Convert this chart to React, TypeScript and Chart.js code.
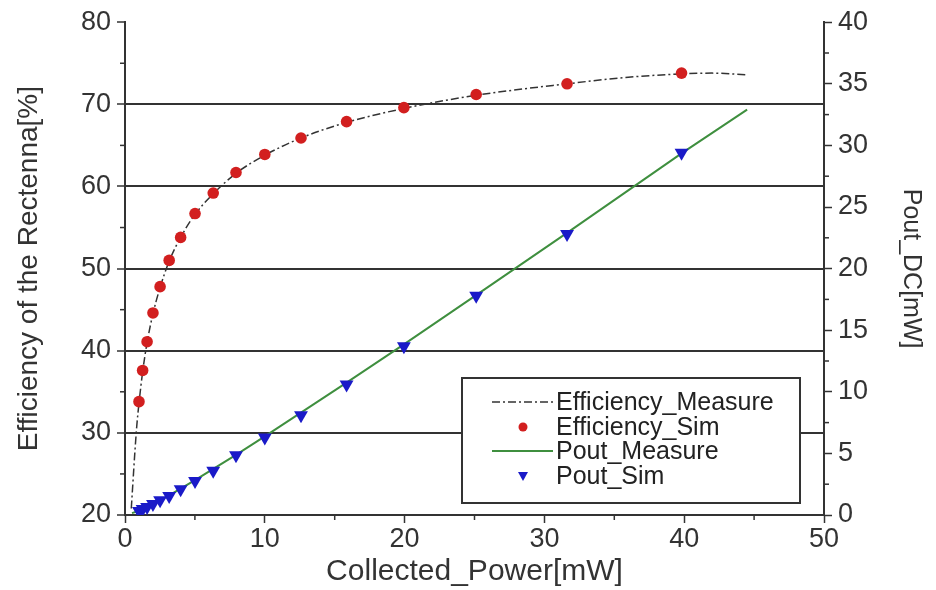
import React, { useEffect, useRef } from "react";
import { Chart, registerables } from "chart.js";

Chart.register(...registerables);

const FONT = "'Liberation Sans', Arial, Helvetica, sans-serif";

// Collected power [mW] at simulated points
const simPower = [1.0, 1.26, 1.58, 2.0, 2.51, 3.16, 3.98, 5.01, 6.31, 7.94, 10.0, 12.59, 15.85, 19.95, 25.12, 31.62, 39.81];
// Efficiency_Sim [%]
const effSim = [33.8, 37.6, 41.1, 44.6, 47.8, 51.0, 53.8, 56.7, 59.2, 61.7, 63.9, 65.9, 67.9, 69.6, 71.2, 72.5, 73.8];
// Pout_Sim [mW]
const poutSim = [0.33, 0.48, 0.65, 0.89, 1.2, 1.55, 2.09, 2.76, 3.6, 4.85, 6.3, 8.1, 10.6, 13.7, 17.8, 22.8, 29.4];

// Efficiency_Measure curve
const effMeasPower = [0.45, 0.55, 0.7, 0.85, 1.0, 1.26, 1.58, 2.0, 2.51, 3.16, 3.98, 5.01, 6.31, 7.94, 10.0, 12.59, 15.85, 19.95, 25.12, 31.62, 36.0, 39.81, 42.0, 44.5];
const effMeas = [20.8, 23.5, 27.5, 31.0, 33.6, 37.4, 41.0, 44.5, 47.7, 50.9, 53.8, 56.6, 59.1, 61.6, 63.8, 65.9, 67.8, 69.5, 71.1, 72.5, 73.3, 73.7, 73.8, 73.6];

// Pout_Measure curve
const poutMeasPower = [0.5, 1.0, 2.0, 3.16, 5.01, 7.94, 10.0, 15.85, 19.95, 25.12, 31.62, 39.81, 44.5];
const poutMeas = [0.15, 0.34, 0.89, 1.6, 2.83, 4.88, 6.38, 10.75, 13.85, 17.85, 22.9, 29.35, 32.9];

const legendLabels = ["Efficiency_Measure", "Efficiency_Sim", "Pout_Measure", "Pout_Sim"];

const xTicksMinor = [5, 15, 25, 35, 45];
const yTicksMinor = [25, 35, 45, 55, 65, 75];
const y2TicksMinor = [2.5, 7.5, 12.5, 17.5, 22.5, 27.5, 32.5, 37.5];

const AXIS = "#333";
const RED = "#d21f1f";
const BLUE = "#1a1ac8";
const GREEN = "#3f8f3f";

const pairs = (xs: number[], ys: number[]) => xs.map((x, i) => ({ x, y: ys[i] }));

const minorTickPlugin = {
  id: "minorTicks",
  afterDraw(chart: any) {
    const { ctx, scales } = chart;
    ctx.save();
    ctx.strokeStyle = AXIS;
    ctx.lineWidth = 1.5;
    const len = 5;
    const xs = scales.x;
    xTicksMinor.forEach((v) => {
      const p = xs.getPixelForValue(v);
      ctx.beginPath();
      ctx.moveTo(p, xs.top);
      ctx.lineTo(p, xs.top + len);
      ctx.stroke();
    });
    const ys = scales.y;
    yTicksMinor.forEach((v) => {
      const p = ys.getPixelForValue(v);
      ctx.beginPath();
      ctx.moveTo(ys.right, p);
      ctx.lineTo(ys.right - len, p);
      ctx.stroke();
    });
    const y2 = scales.y2;
    y2TicksMinor.forEach((v) => {
      const p = y2.getPixelForValue(v);
      ctx.beginPath();
      ctx.moveTo(y2.left, p);
      ctx.lineTo(y2.left + len, p);
      ctx.stroke();
    });
    ctx.restore();
  },
};

const boxLegendPlugin = {
  id: "boxLegend",
  afterDatasetsDraw(chart: any) {
    const { ctx, chartArea } = chart;
    const w = 338;
    const h = 125;
    const x0 = chartArea.right - 24 - w;
    const y0 = chartArea.bottom - 12 - h;
    ctx.save();
    ctx.fillStyle = "#fff";
    ctx.fillRect(x0, y0, w, h);
    ctx.strokeStyle = AXIS;
    ctx.lineWidth = 2;
    ctx.strokeRect(x0, y0, w, h);
    const rows = [24, 49, 73, 98];
    const sx0 = x0 + 30;
    const sx1 = x0 + 91;
    const mx = x0 + 61;
    const tx = x0 + 94;
    // row 0: dash-dot line
    ctx.strokeStyle = "#333";
    ctx.lineWidth = 1.5;
    ctx.setLineDash([8, 3, 2, 3]);
    ctx.beginPath();
    ctx.moveTo(sx0, y0 + rows[0]);
    ctx.lineTo(sx1, y0 + rows[0]);
    ctx.stroke();
    ctx.setLineDash([]);
    // row 1: red dot
    ctx.fillStyle = RED;
    ctx.beginPath();
    ctx.arc(mx, y0 + rows[1], 4.5, 0, Math.PI * 2);
    ctx.fill();
    // row 2: green line
    ctx.strokeStyle = GREEN;
    ctx.lineWidth = 2;
    ctx.beginPath();
    ctx.moveTo(sx0, y0 + rows[2]);
    ctx.lineTo(sx1, y0 + rows[2]);
    ctx.stroke();
    // row 3: blue triangle down
    ctx.fillStyle = BLUE;
    const ty = y0 + rows[3];
    ctx.beginPath();
    ctx.moveTo(mx - 5, ty - 4);
    ctx.lineTo(mx + 5, ty - 4);
    ctx.lineTo(mx, ty + 5);
    ctx.closePath();
    ctx.fill();
    // labels
    ctx.fillStyle = "#222";
    ctx.font = `25px ${FONT}`;
    ctx.textBaseline = "middle";
    ctx.textAlign = "left";
    legendLabels.forEach((t, i) => ctx.fillText(t, tx, y0 + rows[i] + 1));
    ctx.restore();
  },
};

export default function App() {
  const ref = useRef<HTMLCanvasElement | null>(null);

  useEffect(() => {
    document.body.style.margin = "0";
    const canvas = ref.current;
    if (!canvas) return;
    const chart = new Chart(canvas, {
      type: "scatter",
      data: {
        datasets: [
          {
            label: legendLabels[1],
            data: pairs(simPower, effSim),
            yAxisID: "y",
            pointRadius: 5.8,
            pointHoverRadius: 5.8,
            pointBackgroundColor: RED,
            pointBorderColor: RED,
            pointBorderWidth: 0,
            showLine: false,
            order: 1,
          },
          {
            label: legendLabels[3],
            data: pairs(simPower, poutSim),
            yAxisID: "y2",
            pointStyle: "triangle",
            rotation: 180,
            pointRadius: 8,
            pointHoverRadius: 8,
            pointBackgroundColor: BLUE,
            pointBorderColor: BLUE,
            pointBorderWidth: 0,
            showLine: false,
            order: 1,
          },
          {
            label: legendLabels[0],
            data: pairs(effMeasPower, effMeas),
            yAxisID: "y",
            showLine: true,
            pointRadius: 0,
            borderColor: "#333",
            borderWidth: 1.5,
            borderDash: [8, 3, 2, 3],
            cubicInterpolationMode: "monotone",
            order: 2,
          },
          {
            label: legendLabels[2],
            data: pairs(poutMeasPower, poutMeas),
            yAxisID: "y2",
            showLine: true,
            pointRadius: 0,
            borderColor: GREEN,
            borderWidth: 2,
            order: 2,
          },
        ],
      },
      options: {
        responsive: false,
        animation: false,
        layout: { padding: { top: 22, left: 0, right: 0, bottom: 0 } },
        plugins: {
          legend: { display: false },
          tooltip: { enabled: false },
        },
        scales: {
          x: {
            type: "linear",
            position: "bottom",
            min: 0,
            max: 50,
            afterFit: (s: any) => {
              s.height = 75;
            },
            ticks: {
              stepSize: 10,
              color: "#333",
              font: { family: FONT, size: 27 },
              padding: 0,
            },
            grid: { drawOnChartArea: false, drawTicks: true, tickLength: 8, tickColor: AXIS, tickWidth: 1.5 },
            border: { display: true, color: AXIS, width: 2 },
            title: {
              display: true,
              text: "Collected_Power[mW]",
              color: "#333",
              font: { family: FONT, size: 30 },
              padding: { top: 0, bottom: 0 },
            },
          },
          y: {
            type: "linear",
            position: "left",
            min: 20,
            max: 80,
            afterFit: (s: any) => {
              s.width = 125;
            },
            ticks: {
              stepSize: 10,
              color: "#333",
              font: { family: FONT, size: 27 },
              padding: 6,
            },
            grid: {
              drawOnChartArea: true,
              color: (c: any) => (c.tick && (c.tick.value === 80 || c.tick.value === 20) ? "rgba(0,0,0,0)" : AXIS),
              lineWidth: 2,
              drawTicks: true,
              tickLength: 8,
              tickColor: AXIS,
              tickWidth: 1.5,
            },
            border: { display: true, color: AXIS, width: 2 },
            title: {
              display: true,
              text: "Efficiency of the Rectenna[%]",
              color: "#333",
              font: { family: FONT, size: 28 },
              padding: { top: 12, bottom: 0 },
            },
          },
          y2: {
            type: "linear",
            position: "right",
            min: 0,
            max: 40,
            afterFit: (s: any) => {
              s.width = 112;
            },
            ticks: {
              stepSize: 5,
              color: "#333",
              font: { family: FONT, size: 27 },
              padding: 6,
            },
            grid: { drawOnChartArea: false, drawTicks: true, tickLength: 8, tickColor: AXIS, tickWidth: 1.5 },
            border: { display: true, color: AXIS, width: 2 },
            title: {
              display: true,
              text: "Pout_DC[mW]",
              color: "#333",
              font: { family: FONT, size: 25 },
              padding: { top: 10, bottom: 0 },
            },
          },
        },
      } as any,
      plugins: [minorTickPlugin, boxLegendPlugin],
    });
    return () => chart.destroy();
  }, []);

  return (
    <div style={{ width: 936, height: 590, background: "#fff" }}>
      <canvas ref={ref} width={936} height={590} style={{ display: "block" }} />
    </div>
  );
}
